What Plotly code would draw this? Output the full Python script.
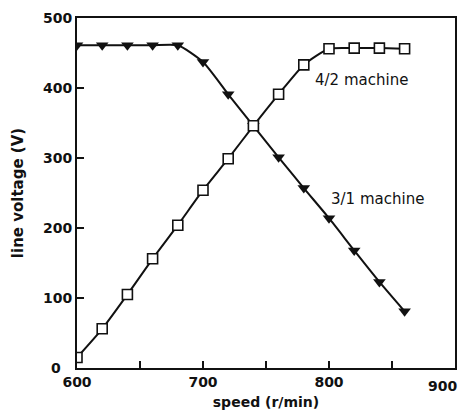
import plotly.graph_objects as go

# speed (r/min) and line voltage (V) for both machines
speed = [600, 620, 640, 660, 680, 700, 720, 740, 760, 780, 800, 820, 840, 860]
v_42 = [15, 56, 105, 156, 204, 254, 299, 346, 391, 433, 456, 457, 457, 456]
v_31 = [461, 461, 461, 461, 461, 437, 391, 346, 301, 257, 214, 168, 123, 81]

x_ticks = [600, 650, 700, 750, 800, 850, 900]
x_tick_text = ["600", "", "700", "", "800", "", ""]
y_ticks = [0, 100, 200, 300, 400, 500]
y_tick_text = ["", "100", "200", "300", "400", "500"]

FONT = "DejaVu Sans"
INK = "#111111"
TICK_FONT = dict(family=FONT, size=14, color=INK, weight="bold")

fig = go.Figure()

fig.add_trace(go.Scatter(
    x=speed, y=v_31, mode="lines+markers",
    line=dict(color=INK, width=2, shape="spline", smoothing=0.6),
    marker=dict(symbol="triangle-down", size=11, color=INK),
    showlegend=False,
))
fig.add_trace(go.Scatter(
    x=speed, y=v_42, mode="lines",
    line=dict(color=INK, width=2, shape="spline", smoothing=0.6),
    showlegend=False,
))
# open squares with a white face so the lines do not show through
fig.add_trace(go.Scatter(
    x=speed, y=v_42, mode="markers",
    marker=dict(symbol="square", size=10, color="white",
                line=dict(width=1.6, color=INK)),
    showlegend=False,
))

fig.add_annotation(x=787, y=411, text="4/2 machine", showarrow=False,
                   xanchor="left", yanchor="middle",
                   font=dict(family=FONT, size=15, color=INK))
fig.add_annotation(x=800, y=241, text="3/1 machine", showarrow=False,
                   xanchor="left", yanchor="middle",
                   font=dict(family=FONT, size=15, color=INK))

# end labels of both axes, nudged apart as on the printed figure
fig.add_annotation(xref="paper", yref="y", x=0, y=0, text="0",
                   showarrow=False, xanchor="right", yanchor="middle",
                   xshift=-14, font=TICK_FONT)
fig.add_annotation(xref="paper", yref="paper", x=1, y=0, text="900",
                   showarrow=False, xanchor="right", yanchor="top",
                   xshift=4, yshift=-8, font=TICK_FONT)

axis_common = dict(
    showgrid=False, zeroline=False, showline=True, linecolor=INK, linewidth=2,
    mirror=True, ticks="inside", ticklen=7, tickwidth=2, tickcolor=INK,
)

fig.update_layout(
    width=461, height=416,
    margin=dict(l=77, r=4, t=18, b=48),
    paper_bgcolor="white", plot_bgcolor="white",
    xaxis=dict(range=[600, 900], tickvals=x_ticks, ticktext=x_tick_text,
               tickfont=TICK_FONT,
               title=dict(text="<b>speed (r/min)</b>", standoff=8,
                          font=dict(family=FONT, size=14, color=INK)),
               **axis_common),
    yaxis=dict(range=[0, 500], tickvals=y_ticks, ticktext=y_tick_text,
               tickfont=TICK_FONT,
               title=dict(text="<b>line voltage (V)</b>", standoff=16,
                          font=dict(family=FONT, size=15, color=INK)),
               **axis_common),
)

fig.write_html("out.html")
